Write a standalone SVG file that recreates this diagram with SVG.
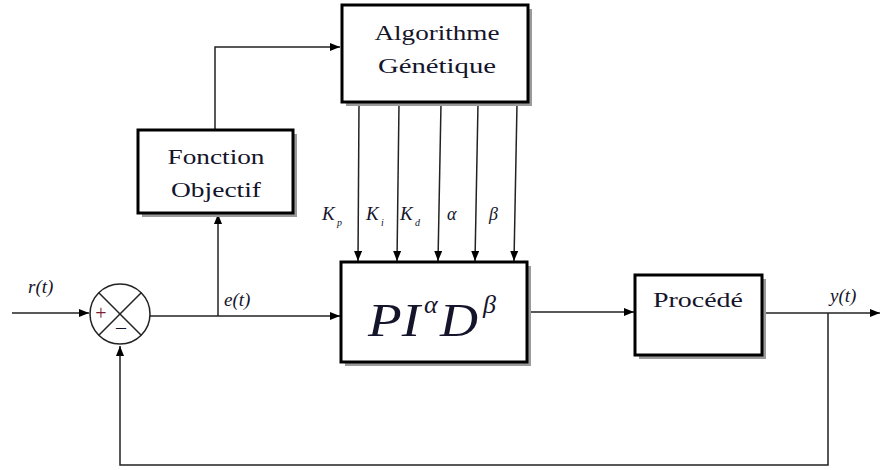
<svg xmlns="http://www.w3.org/2000/svg" width="881" height="470" viewBox="0 0 881 470">
<style>
.box{fill:#fff;stroke:#000;stroke-width:3}
.shadow{fill:#9a9a9a}
.ln{fill:none;stroke:#222;stroke-width:1.5}
.t{font-family:'Times New Roman','Liberation Serif',Tinos,'Noto Serif','DejaVu Serif',serif;fill:#14142a;text-anchor:middle;font-size:22px}
.m{font-family:'Times New Roman','Liberation Serif',Tinos,'Noto Serif','DejaVu Serif',serif;font-style:italic;fill:#14142a}
</style>
<defs>
<marker id="ah" markerWidth="10" markerHeight="8" refX="10" refY="4" orient="auto" markerUnits="userSpaceOnUse">
<path d="M0,0 L10,4 L0,8 z" fill="#000"/>
</marker>
</defs>
<rect width="881" height="470" fill="#fff"/>
<g id="connectors">
<line class="ln" x1="12" y1="313" x2="89" y2="313" marker-end="url(#ah)"/>
<line class="ln" x1="150" y1="316" x2="340" y2="316" marker-end="url(#ah)"/>
<polyline class="ln" points="218,316 218,214" marker-end="url(#ah)"/>
<polyline class="ln" points="215,130 215,47 340,47" marker-end="url(#ah)"/>
<line class="ln" x1="359" y1="104" x2="358" y2="261" marker-end="url(#ah)"/>
<line class="ln" x1="399" y1="104" x2="397" y2="261" marker-end="url(#ah)"/>
<line class="ln" x1="441" y1="104" x2="438" y2="261" marker-end="url(#ah)"/>
<line class="ln" x1="478" y1="104" x2="475" y2="261" marker-end="url(#ah)"/>
<line class="ln" x1="517" y1="104" x2="514" y2="261" marker-end="url(#ah)"/>
<line class="ln" x1="528" y1="312" x2="634" y2="312" marker-end="url(#ah)"/>
<line class="ln" x1="763" y1="313" x2="880" y2="313" marker-end="url(#ah)"/>
<polyline class="ln" points="828,313 828,465 120,465 120,346" marker-end="url(#ah)"/>
</g>
<g id="sum">
<circle cx="120" cy="314" r="30" fill="#fff" stroke="#222" stroke-width="1.5"/>
<line class="ln" x1="98.8" y1="292.8" x2="141.2" y2="335.2"/>
<line class="ln" x1="141.2" y1="292.8" x2="98.8" y2="335.2"/>
<text x="101" y="320" class="t" font-size="20" style="fill:#7a2030;font-size:20px">+</text>
<text x="121" y="334" class="t" style="font-size:20px">–</text>
</g>
<g id="algo">
<rect class="shadow" x="346" y="9" width="186" height="97"/>
<rect class="box" x="342" y="5" width="186" height="97"/>
<text class="t" x="437" y="40" textLength="125" lengthAdjust="spacingAndGlyphs">Algorithme</text>
<text class="t" x="437" y="73" textLength="118" lengthAdjust="spacingAndGlyphs">Génétique</text>
</g>
<g id="fonction">
<rect class="shadow" x="142" y="134" width="155" height="83"/>
<rect class="box" x="138" y="130" width="155" height="83"/>
<text class="t" x="216" y="164" textLength="97" lengthAdjust="spacingAndGlyphs">Fonction</text>
<text class="t" x="216" y="197" textLength="90" lengthAdjust="spacingAndGlyphs">Objectif</text>
</g>
<g id="pid">
<rect class="shadow" x="345" y="266" width="186" height="100"/>
<rect class="box" x="341" y="262" width="186" height="100"/>
<text class="m" x="368" y="336" font-size="46" textLength="52" lengthAdjust="spacingAndGlyphs">PI</text>
<text class="m" x="424" y="313" font-size="26">α</text>
<text class="m" x="440" y="336" font-size="46" textLength="38" lengthAdjust="spacingAndGlyphs">D</text>
<text class="m" x="483" y="313" font-size="26">β</text>
</g>
<g id="procede">
<rect class="shadow" x="639" y="279" width="127" height="80"/>
<rect class="box" x="635" y="275" width="127" height="80"/>
<text class="t" x="698" y="307" textLength="90" lengthAdjust="spacingAndGlyphs">Procédé</text>
</g>
<g id="labels">
<text class="m" x="322" y="220" font-size="19">K</text><text class="m" x="337" y="226" font-size="10">p</text>
<text class="m" x="366" y="220" font-size="19">K</text><text class="m" x="381" y="226" font-size="10">i</text>
<text class="m" x="400" y="220" font-size="19">K</text><text class="m" x="415" y="226" font-size="10">d</text>
<text class="m" x="447" y="220" font-size="18">α</text>
<text class="m" x="489" y="220" font-size="18">β</text>
<text class="m" x="28" y="293" font-size="19">r(t)</text>
<text class="m" x="224" y="306" font-size="19">e(t)</text>
<text class="m" x="830" y="302" font-size="19">y(t)</text>
</g>
</svg>
